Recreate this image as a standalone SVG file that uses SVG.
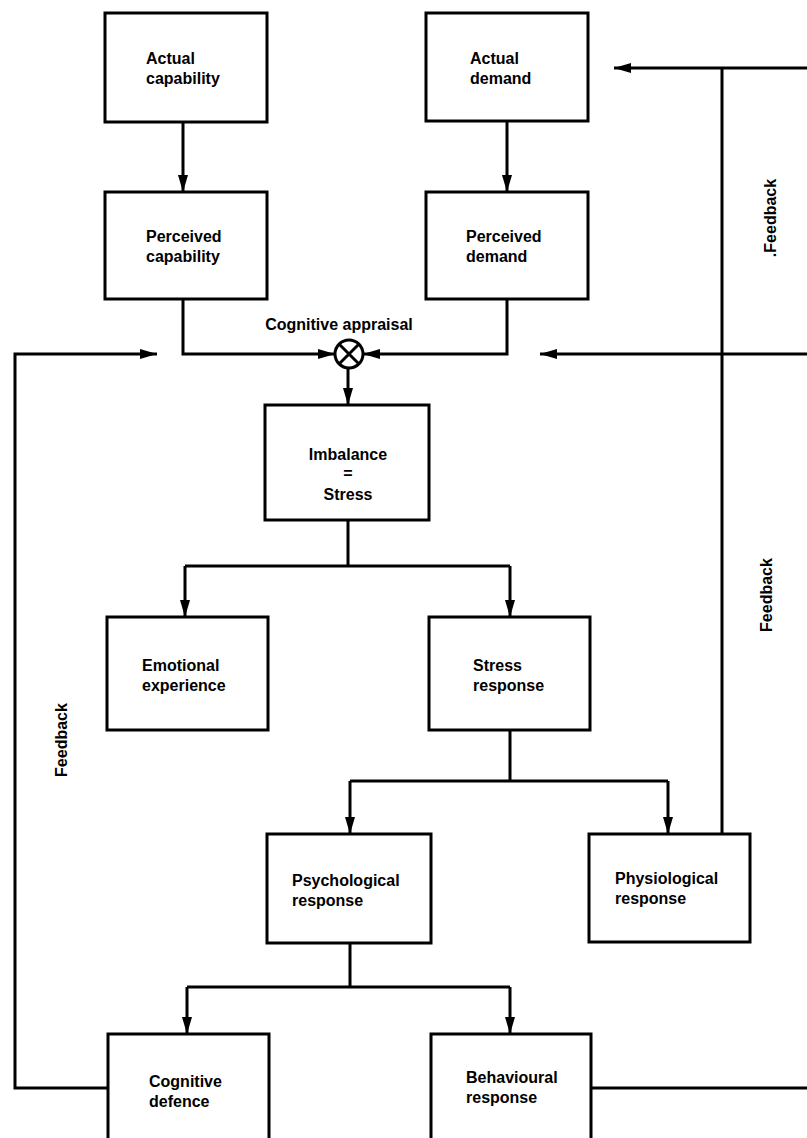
<svg xmlns="http://www.w3.org/2000/svg" width="807" height="1138" viewBox="0 0 807 1138">
<style>
.box{fill:#fff;stroke:#000;stroke-width:3}
.ln{fill:none;stroke:#000;stroke-width:3}
.arr{fill:none;stroke:#000;stroke-width:3;marker-end:url(#ah)}
text{font-family:"Liberation Sans",Arial,sans-serif;font-weight:bold;font-size:16px;fill:#000}
.c{text-anchor:middle}
</style>
<defs>
<marker id="ah" markerUnits="userSpaceOnUse" markerWidth="18" markerHeight="12" refX="17" refY="5" orient="auto">
<path d="M0,0 L17,5 L0,10 z" fill="#000"/>
</marker>
</defs>
<rect width="807" height="1138" fill="#fff"/>
<g id="connectors">
<path class="arr" d="M183,122 V192"/>
<path class="arr" d="M507,122 V192"/>
<path class="arr" d="M183,299 V354 H335"/>
<path class="arr" d="M507,299 V354 H363"/>
<path class="arr" d="M348,368 V405"/>
<path class="ln" d="M348,520 V566 H185 M348,566 H510"/>
<path class="arr" d="M185,566 V617"/>
<path class="arr" d="M510,566 V617"/>
<path class="ln" d="M510,730 V781 H350 M510,781 H668"/>
<path class="arr" d="M350,781 V834"/>
<path class="arr" d="M668,781 V834"/>
<path class="ln" d="M350,943 V987 H187 M350,987 H510"/>
<path class="arr" d="M187,987 V1034"/>
<path class="arr" d="M510,987 V1034"/>
<path class="arr" d="M108,1088 H15 V354 H157"/>
<path class="ln" d="M591,1088 H810"/>
<path class="arr" d="M810,354 H540"/>
<path class="ln" d="M722,834 V68"/>
<path class="arr" d="M810,68 H614"/>
</g>
<g id="appraisal">
<circle cx="349" cy="354" r="14" fill="#fff" stroke="#000" stroke-width="3"/>
<path class="ln" d="M339,344 L359,364 M359,344 L339,364"/>
<text class="c" x="339" y="330">Cognitive appraisal</text>
</g>
<g id="actual-capability"><rect class="box" x="105" y="13" width="162" height="109"/><text x="146" y="64">Actual</text><text x="146" y="84">capability</text></g>
<g id="actual-demand"><rect class="box" x="426" y="13" width="162" height="108"/><text x="470" y="64">Actual</text><text x="470" y="84">demand</text></g>
<g id="perceived-capability"><rect class="box" x="105" y="192" width="162" height="107"/><text x="146" y="242">Perceived</text><text x="146" y="262">capability</text></g>
<g id="perceived-demand"><rect class="box" x="426" y="192" width="162" height="107"/><text x="466" y="242">Perceived</text><text x="466" y="262">demand</text></g>
<g id="imbalance"><rect class="box" x="265" y="405" width="164" height="115"/><text class="c" x="348" y="460">Imbalance</text><text class="c" x="348" y="479">=</text><text class="c" x="348" y="500">Stress</text></g>
<g id="emotional-experience"><rect class="box" x="107" y="617" width="161" height="113"/><text x="142" y="671">Emotional</text><text x="142" y="691">experience</text></g>
<g id="stress-response"><rect class="box" x="429" y="617" width="161" height="113"/><text x="473" y="671">Stress</text><text x="473" y="691">response</text></g>
<g id="psychological-response"><rect class="box" x="267" y="834" width="164" height="109"/><text x="292" y="886">Psychological</text><text x="292" y="906">response</text></g>
<g id="physiological-response"><rect class="box" x="589" y="834" width="161" height="108"/><text x="615" y="884">Physiological</text><text x="615" y="904">response</text></g>
<g id="cognitive-defence"><rect class="box" x="108" y="1034" width="161" height="112"/><text x="149" y="1087">Cognitive</text><text x="149" y="1107">defence</text></g>
<g id="behavioural-response"><rect class="box" x="431" y="1034" width="160" height="112"/><text x="466" y="1083">Behavioural</text><text x="466" y="1103">response</text></g>
<g id="labels">
<text class="c" transform="translate(776,218) rotate(-90)">.Feedback</text>
<text class="c" transform="translate(772,595) rotate(-90)">Feedback</text>
<text class="c" transform="translate(67,740) rotate(-90)">Feedback</text>
</g>
</svg>
